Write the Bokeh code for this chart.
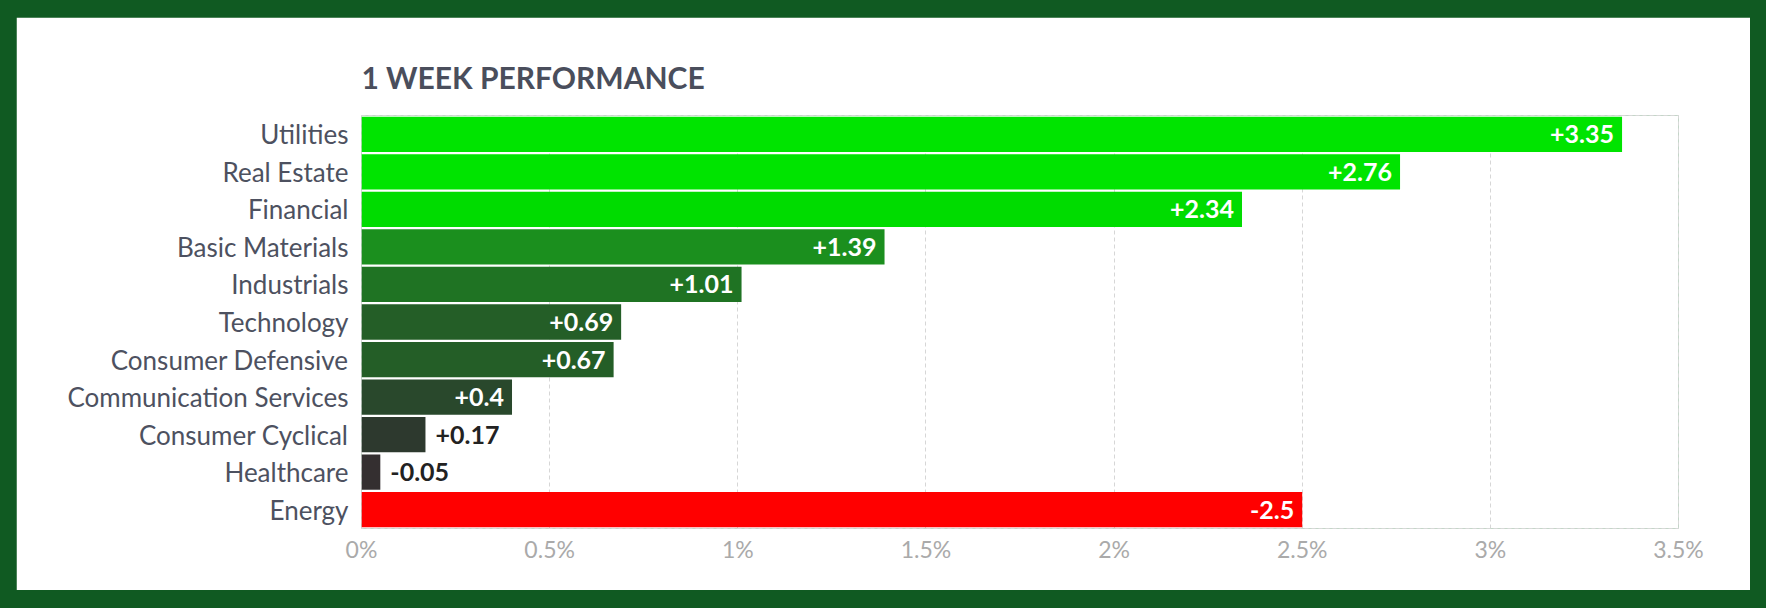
from bokeh.plotting import figure
from bokeh.models import ColumnDataSource, FactorRange, Range1d, FixedTicker, CustomJSTickFormatter
from bokeh.layouts import column
from bokeh.core.properties import value
from bokeh.embed import file_html
from bokeh.resources import INLINE

# ---- data ----
categories = ["Utilities", "Real Estate", "Financial", "Basic Materials", "Industrials",
              "Technology", "Consumer Defensive", "Communication Services",
              "Consumer Cyclical", "Healthcare", "Energy"]
values = [3.35, 2.76, 2.34, 1.39, 1.01, 0.69, 0.67, 0.4, 0.17, -0.05, -2.5]
bar_colors = ["#00e400", "#00e400", "#00dc00", "#1b8f1e", "#1f7323", "#245e27",
              "#245e27", "#29482c", "#2d392e", "#342f30", "#ff0000"]
x_ticks = [0, 0.5, 1, 1.5, 2, 2.5, 3, 3.5]
title_text = "1 WEEK PERFORMANCE"

FONT = "Lato"
lengths = [abs(v) for v in values]
labels = [f"{v:+g}" for v in values]

inside = [i for i, l in enumerate(lengths) if l >= 0.3]
outside = [i for i, l in enumerate(lengths) if l < 0.3]

bars = ColumnDataSource(dict(cat=categories, len=lengths, color=bar_colors))
src_in = ColumnDataSource(dict(cat=[categories[i] for i in inside],
                               len=[lengths[i] for i in inside],
                               label=[labels[i] for i in inside]))
src_out = ColumnDataSource(dict(cat=[categories[i] for i in outside],
                                len=[lengths[i] for i in outside],
                                label=[labels[i] for i in outside]))

p = figure(width=1734, height=573, output_backend="svg", toolbar_location=None,
           y_range=FactorRange(factors=list(reversed(categories)), range_padding=0),
           x_range=Range1d(0, 3.5),
           min_border_left=345, min_border_right=72, min_border_top=98, min_border_bottom=62,
           background_fill_color="white", border_fill_color="white")

p.title.text = title_text
p.title.text_font = FONT
p.title.text_font_size = "30px"
p.title.text_font_style = "bold"
p.title.text_color = "#4a4e5c"
p.title.align = "left"
p.title.standoff = 41

p.hbar(y="cat", left=0, right="len", height=0.94, color="color", line_color=None, source=bars)

p.text(x="len", y="cat", text="label", source=src_in, text_align="right", x_offset=-8,
       text_baseline="middle", text_font=value(FONT), text_font_style="bold",
       text_font_size="25px", text_color="white")
p.text(x="len", y="cat", text="label", source=src_out, text_align="left", x_offset=10,
       text_baseline="middle", text_font=value(FONT), text_font_style="bold",
       text_font_size="25px", text_color="#222222")

# axes
p.xaxis.ticker = FixedTicker(ticks=x_ticks)
p.xaxis.formatter = CustomJSTickFormatter(code="return tick + '%';")
p.xaxis.axis_line_color = None
p.xaxis.major_tick_line_color = None
p.xaxis.minor_tick_line_color = None
p.xaxis.major_label_text_font = FONT
p.xaxis.major_label_text_font_size = "23px"
p.xaxis.major_label_text_color = "#aaaaaa"
p.xaxis.major_label_standoff = 0

p.yaxis.axis_line_color = None
p.yaxis.major_tick_line_color = None
p.yaxis.minor_tick_line_color = None
p.yaxis.major_label_text_font = FONT
p.yaxis.major_label_text_font_size = "26px"
p.yaxis.major_label_text_color = "#4d5160"
p.yaxis.major_label_standoff = 7

p.ygrid.grid_line_color = None
p.xgrid.grid_line_color = "#d6d6d6"
p.xgrid.grid_line_dash = "4 3"
p.outline_line_color = "#d8d8d8"
p.outline_line_dash = "4 3"

layout = column(p, styles={"background-color": "#105a22",
                           "padding": "17px 16px 18px 16px"})

open("out.html", "w").write(file_html(layout, INLINE))
